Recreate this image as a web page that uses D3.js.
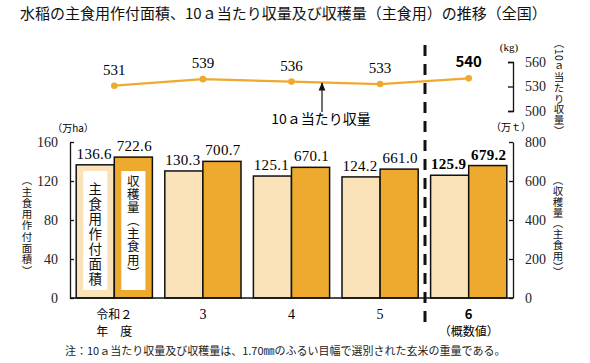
<!DOCTYPE html>
<html>
<head>
<meta charset="utf-8">
<script src="https://cdn.jsdelivr.net/npm/d3@7"></script>
<style>
  body { margin: 0; background: #fff; }
  svg { display: block; }
  .vt { writing-mode: vertical-rl; }
</style>
</head>
<body>
<svg id="chart"></svg>
<script>
// data
const years = ["令和2", "3", "4", "5", "6"];
const areaVals = [136.6, 130.3, 125.1, 124.2, 125.9];      // 万ha
const harvestVals = [722.6, 700.7, 670.1, 661.0, 679.2];   // 万t
const yieldVals = [531, 539, 536, 533, 540];               // kg / 10a
const leftTicks = [0, 40, 80, 120, 160];
const rightTicks = [0, 200, 400, 600, 800];
const kgTicks = [500, 530, 560];

const width = 590, height = 363;
const jp = "'Noto Sans CJK JP', sans-serif";
const serif = "'Liberation Serif', 'DejaVu Serif', serif";
const light = "#fae3b9", dark = "#eea92f";

const svg = d3.select("#chart").attr("width", width).attr("height", height);

// scales
const x0 = d3.scaleBand().domain(d3.range(years.length))
    .range([70, 513]).paddingInner(0.14).paddingOuter(0.07);
const x1 = d3.scaleBand().domain(["area", "harvest"]).range([0, x0.bandwidth()]);
const yL = d3.scaleLinear().domain([0, 160]).range([298, 142]);
const yR = d3.scaleLinear().domain([0, 800]).range([298, 142]);
const yK = d3.scaleLinear().domain([500, 560]).range([111, 62]);
const cx = i => x0(i) + x0.bandwidth() / 2;

// title
svg.append("text").attr("x", 20).attr("y", 19)
    .attr("font-family", jp).attr("font-size", 15).attr("fill", "#111")
    .text("水稲の主食用作付面積、10ａ当たり収量及び収穫量（主食用）の推移（全国）");

// bars
const groups = svg.append("g").selectAll("g").data(years).join("g")
    .attr("transform", (d, i) => `translate(${x0(i)},0)`);
groups.append("rect")
    .attr("x", x1("area")).attr("width", x1.bandwidth())
    .attr("y", (d, i) => yL(areaVals[i])).attr("height", (d, i) => yL(0) - yL(areaVals[i]))
    .attr("fill", light).attr("stroke", "#111").attr("stroke-width", 1.5);
groups.append("rect")
    .attr("x", x1("harvest")).attr("width", x1.bandwidth())
    .attr("y", (d, i) => yR(harvestVals[i])).attr("height", (d, i) => yR(0) - yR(harvestVals[i]))
    .attr("fill", dark).attr("stroke", "#111").attr("stroke-width", 1.5);

// bar value labels
groups.append("text")
    .attr("x", x1("area") + x1.bandwidth() / 2 - 1).attr("y", (d, i) => yL(areaVals[i]) - 6)
    .attr("text-anchor", "middle").attr("font-family", serif).attr("font-size", 15)
    .attr("letter-spacing", 0.3)
    .attr("font-weight", (d, i) => i === 4 ? "bold" : "normal")
    .text((d, i) => areaVals[i].toFixed(1));
groups.append("text")
    .attr("x", x1("harvest") + x1.bandwidth() / 2 + 1).attr("y", (d, i) => yR(harvestVals[i]) - 6)
    .attr("text-anchor", "middle").attr("font-family", serif).attr("font-size", 15)
    .attr("letter-spacing", 0.3)
    .attr("font-weight", (d, i) => i === 4 ? "bold" : "normal")
    .text((d, i) => harvestVals[i].toFixed(1));

// vertical text helper
function vtext(x, y, str, size, spacing) {
    return svg.append("text").attr("class", "vt")
        .attr("x", x).attr("y", y)
        .attr("font-family", jp).attr("font-size", size).attr("fill", "#111")
        .attr("letter-spacing", spacing || 0)
        .text(str);
}

// legend boxes inside first group
const bx = x0(0);
svg.append("rect").attr("x", bx + x1("area") + 7).attr("y", 171)
    .attr("width", x1.bandwidth() - 14).attr("height", 119).attr("fill", "#fff");
svg.append("rect").attr("x", bx + x1("harvest") + 7).attr("y", 171)
    .attr("width", x1.bandwidth() - 14).attr("height", 119).attr("fill", "#fff");
vtext(bx + x1("area") + x1.bandwidth() / 2, 182, "主食用作付面積", 13.5, 1.5);
vtext(bx + x1("harvest") + x1.bandwidth() / 2, 175, "収穫量（主食用）", 12.5, 0.6);

// axes
const axL = svg.append("g").attr("transform", "translate(70,0)")
    .call(d3.axisLeft(yL).tickValues(leftTicks).tickSizeInner(-4).tickSizeOuter(0).tickPadding(12));
const axR = svg.append("g").attr("transform", "translate(513,0)")
    .call(d3.axisRight(yR).tickValues(rightTicks).tickSizeInner(-4).tickSizeOuter(0).tickPadding(12));
const axK = svg.append("g").attr("transform", "translate(513,0)")
    .call(d3.axisRight(yK).tickValues(kgTicks).tickSizeInner(-5).tickSizeOuter(-5).tickPadding(12));
[axL, axR, axK].forEach(a => {
    a.selectAll("path, line").attr("stroke", "#111").attr("stroke-width", 1.3);
    a.selectAll("text").attr("font-family", serif).attr("font-size", 14).attr("fill", "#222");
});
svg.append("line").attr("x1", 70).attr("x2", 513).attr("y1", yL(0)).attr("y2", yL(0))
    .attr("stroke", "#111").attr("stroke-width", 1.5);

// unit labels
svg.append("text").attr("x", 73).attr("y", 132).attr("text-anchor", "middle")
    .attr("font-family", jp).attr("font-size", 10).text("（万ha）");
svg.append("text").attr("x", 511).attr("y", 131).attr("text-anchor", "middle")
    .attr("font-family", jp).attr("font-size", 10).text("（万ｔ）");
svg.append("text").attr("x", 509).attr("y", 51).attr("text-anchor", "middle")
    .attr("font-family", serif).attr("font-size", 11).text("(kg)");

// vertical axis titles
vtext(27, 175, "（主食用作付面積）", 10.5, 0.8);
vtext(558, 175, "（収穫量（主食用））", 10.5, 0.3);
vtext(559, 38, "（10ａ当たり収量）", 10.5, 0.3);

// x labels
years.forEach((y, i) => {
    if (i === 0) {
        svg.append("text").attr("x", cx(i)).attr("y", 319).attr("text-anchor", "middle")
            .attr("font-family", jp).attr("font-size", 12).text("令和２");
        svg.append("text").attr("x", cx(i)).attr("y", 336).attr("text-anchor", "middle")
            .attr("font-family", jp).attr("font-size", 12).text("年　度");
    } else if (i === 4) {
        svg.append("text").attr("x", cx(i)).attr("y", 319).attr("text-anchor", "middle")
            .attr("font-family", jp).attr("font-size", 13).attr("font-weight", "bold").text(y);
        svg.append("text").attr("x", cx(i)).attr("y", 336).attr("text-anchor", "middle")
            .attr("font-family", jp).attr("font-size", 12).text("（概数値）");
    } else {
        svg.append("text").attr("x", cx(i)).attr("y", 319).attr("text-anchor", "middle")
            .attr("font-family", serif).attr("font-size", 14).text(y);
    }
});

// yield line
const line = d3.line().x((d, i) => cx(i)).y(d => yK(d));
svg.append("path").datum(yieldVals).attr("d", line)
    .attr("fill", "none").attr("stroke", dark).attr("stroke-width", 2.2);
svg.append("g").selectAll("circle").data(yieldVals).join("circle")
    .attr("cx", (d, i) => cx(i)).attr("cy", d => yK(d)).attr("r", 3.3).attr("fill", dark);
svg.append("g").selectAll("text").data(yieldVals).join("text")
    .attr("x", (d, i) => cx(i)).attr("y", d => yK(d) - 11)
    .attr("text-anchor", "middle")
    .attr("font-family", (d, i) => i === 4 ? jp : serif)
    .attr("font-weight", (d, i) => i === 4 ? "bold" : "normal")
    .attr("font-size", 15).text(d => d);

// annotation arrow
svg.append("defs").append("marker").attr("id", "ah")
    .attr("viewBox", "0 0 10 10").attr("refX", 9).attr("refY", 5)
    .attr("markerWidth", 7).attr("markerHeight", 7).attr("orient", "auto")
    .append("path").attr("d", "M0,1L10,5L0,9Z").attr("fill", "#111");
svg.append("line").attr("x1", 322).attr("x2", 322).attr("y1", 112).attr("y2", 83)
    .attr("stroke", "#111").attr("stroke-width", 1.2).attr("marker-end", "url(#ah)");
svg.append("text").attr("x", 321).attr("y", 124).attr("text-anchor", "middle")
    .attr("font-family", jp).attr("font-size", 14).text("10ａ当たり収量");

// divider between confirmed and preliminary
svg.append("line").attr("x1", 425).attr("x2", 425).attr("y1", 45).attr("y2", 330)
    .attr("stroke", "#111").attr("stroke-width", 3).attr("stroke-dasharray", "11,8");

// note
svg.append("text").attr("x", 65).attr("y", 355)
    .attr("font-family", jp).attr("font-size", 11).attr("fill", "#222")
    .text("注：10ａ当たり収量及び収穫量は、1.70㎜のふるい目幅で選別された玄米の重量である。");
</script>
</body>
</html>
